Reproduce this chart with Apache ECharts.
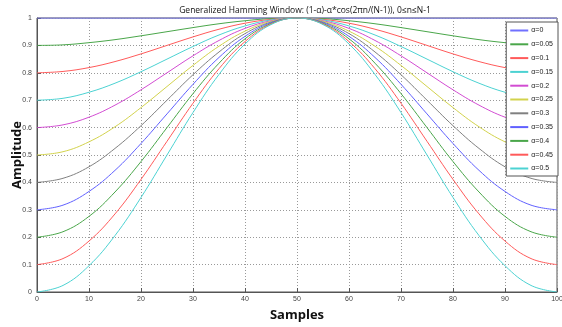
<!DOCTYPE html>
<html>
<head>
<meta charset="utf-8">
<script src="https://cdn.jsdelivr.net/npm/echarts@6/dist/echarts.min.js"></script>
<style>
  html, body { margin: 0; padding: 0; background: #fff; }
  #chart { width: 562px; height: 327px; }
</style>
</head>
<body>
<div id="chart"></div>
<script>
const samples = [0, 5, 10, 15, 20, 25, 30, 35, 40, 45, 50, 55, 60, 65, 70, 75, 80, 85, 90, 95, 100];

const alphaNames = ["α=0", "α=0.05", "α=0.1", "α=0.15", "α=0.2", "α=0.25", "α=0.3", "α=0.35", "α=0.4", "α=0.45", "α=0.5"];

const a000 = [1, 1, 1, 1, 1, 1, 1, 1, 1, 1, 1, 1, 1, 1, 1, 1, 1, 1, 1, 1, 1];
const a005 = [0.9, 0.902, 0.91, 0.921, 0.935, 0.95, 0.965, 0.979, 0.99, 0.998, 1, 0.998, 0.99, 0.979, 0.965, 0.95, 0.935, 0.921, 0.91, 0.902, 0.9];
const a010 = [0.8, 0.805, 0.819, 0.841, 0.869, 0.9, 0.931, 0.959, 0.981, 0.995, 1, 0.995, 0.981, 0.959, 0.931, 0.9, 0.869, 0.841, 0.819, 0.805, 0.8];
const a015 = [0.7, 0.707, 0.729, 0.762, 0.804, 0.85, 0.896, 0.938, 0.971, 0.993, 1, 0.993, 0.971, 0.938, 0.896, 0.85, 0.804, 0.762, 0.729, 0.707, 0.7];
const a020 = [0.6, 0.61, 0.638, 0.682, 0.738, 0.8, 0.862, 0.918, 0.962, 0.99, 1, 0.99, 0.962, 0.918, 0.862, 0.8, 0.738, 0.682, 0.638, 0.61, 0.6];
const a025 = [0.5, 0.512, 0.548, 0.603, 0.673, 0.75, 0.827, 0.897, 0.952, 0.988, 1, 0.988, 0.952, 0.897, 0.827, 0.75, 0.673, 0.603, 0.548, 0.512, 0.5];
const a030 = [0.4, 0.415, 0.457, 0.524, 0.607, 0.7, 0.793, 0.876, 0.943, 0.985, 1, 0.985, 0.943, 0.876, 0.793, 0.7, 0.607, 0.524, 0.457, 0.415, 0.4];
const a035 = [0.3, 0.317, 0.367, 0.444, 0.542, 0.65, 0.758, 0.856, 0.933, 0.983, 1, 0.983, 0.933, 0.856, 0.758, 0.65, 0.542, 0.444, 0.367, 0.317, 0.3];
const a040 = [0.2, 0.22, 0.276, 0.365, 0.476, 0.6, 0.724, 0.835, 0.924, 0.98, 1, 0.98, 0.924, 0.835, 0.724, 0.6, 0.476, 0.365, 0.276, 0.22, 0.2];
const a045 = [0.1, 0.122, 0.186, 0.285, 0.411, 0.55, 0.689, 0.815, 0.914, 0.978, 1, 0.978, 0.914, 0.815, 0.689, 0.55, 0.411, 0.285, 0.186, 0.122, 0.1];
const a050 = [0, 0.024, 0.096, 0.206, 0.345, 0.5, 0.655, 0.794, 0.905, 0.976, 1, 0.976, 0.905, 0.794, 0.655, 0.5, 0.345, 0.206, 0.096, 0.024, 0];

const seriesValues = [a000, a005, a010, a015, a020, a025, a030, a035, a040, a045, a050];

const lineColors = ["#7070ff", "#4aa64a", "#ff5a5a", "#4cd2d2", "#d24cd2", "#d2d24c", "#808080", "#6060ff", "#4aa64a", "#ff5a5a", "#4cd2d2"];

const chart = echarts.init(document.getElementById("chart"), null, { renderer: "canvas" });

const axisFont = { color: "#444", fontSize: 7, fontFamily: "Liberation Sans" };

chart.setOption({
  animation: false,
  color: lineColors,
  title: {
    text: "Generalized Hamming Window: (1-α)-α*cos(2πn/(N-1)), 0≤n≤N-1",
    left: 300,
    top: 1,
    textAlign: "center",
    textStyle: { fontSize: 8.5, fontWeight: "normal", color: "#111", fontFamily: "Open Sans" }
  },
  legend: {
    orient: "vertical",
    right: 4,
    top: 22,
    data: alphaNames,
    icon: "rect",
    itemWidth: 18,
    itemHeight: 2,
    itemGap: 6.8,
    padding: [5, 5, 4, 4],
    backgroundColor: "#fff",
    borderColor: "#555",
    borderWidth: 1,
    borderRadius: 0,
    textStyle: { fontSize: 7, color: "#222", fontFamily: "Liberation Sans", padding: [0, 0, 0, -2] }
  },
  grid: { left: 37, right: 5, top: 18, bottom: 35, outerBoundsMode: "none", show: true, borderColor: "#555", borderWidth: 1 },
  xAxis: {
    type: "value",
    min: 0,
    max: 100,
    interval: 10,
    name: "Samples",
    nameLocation: "middle",
    nameGap: 17,
    nameTextStyle: { fontSize: 13, fontWeight: "bold", color: "#111", fontFamily: "Open Sans" },
    axisLine: { lineStyle: { color: "#555" } },
    axisTick: { inside: true, length: 4, lineStyle: { color: "#555" } },
    axisLabel: Object.assign({ margin: 4 }, axisFont),
    splitLine: { show: true, lineStyle: { color: "#999", type: [1, 2], width: 1 } }
  },
  yAxis: {
    type: "value",
    min: 0,
    max: 1,
    interval: 0.1,
    name: "Amplitude",
    nameLocation: "middle",
    nameGap: 13,
    nameMoveOverlap: false,
    nameTextStyle: { fontSize: 13, fontWeight: "bold", color: "#111", fontFamily: "Open Sans" },
    axisLine: { lineStyle: { color: "#555" } },
    axisTick: { inside: true, length: 4, lineStyle: { color: "#555" } },
    axisLabel: Object.assign({ margin: 5 }, axisFont),
    splitLine: { show: true, lineStyle: { color: "#999", type: [1, 2], width: 1 } }
  },
  series: seriesValues.map((vals, i) => ({
    name: alphaNames[i],
    type: "line",
    symbol: "none",
    smooth: 0.4,
    lineStyle: { width: 1 },
    data: samples.map((x, j) => [x, vals[j]])
  }))
});
</script>
</body>
</html>
